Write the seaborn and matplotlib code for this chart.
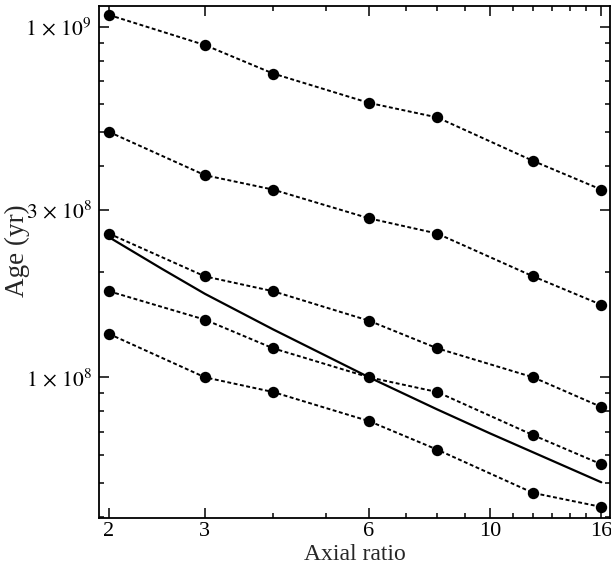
import numpy as np
import pandas as pd
import matplotlib
matplotlib.use("Agg")
import matplotlib.pyplot as plt
from matplotlib import ticker
import seaborn as sns

# ---- data ----
axial_ratio = [2, 3, 4, 6, 8, 12, 16]
age_s1 = [1.08e9, 8.86e8, 7.35e8, 6.06e8, 5.51e8, 4.14e8, 3.43e8]
age_s2 = [5.01e8, 3.77e8, 3.43e8, 2.84e8, 2.57e8, 1.94e8, 1.61e8]
age_s3 = [2.57e8, 1.94e8, 1.76e8, 1.45e8, 1.21e8, 1.00e8, 8.23e7]
age_s4 = [1.76e8, 1.46e8, 1.21e8, 1.00e8, 9.08e7, 6.84e7, 5.65e7]
age_s5 = [1.33e8, 1.00e8, 9.08e7, 7.50e7, 6.22e7, 4.68e7, 4.27e7]

curve_x = [2, 2.5, 3, 4, 6, 8, 10, 12, 16]
curve_y = [2.51e8, 2.04e8, 1.73e8, 1.37e8, 1.00e8, 8.10e7, 6.92e7, 6.11e7, 5.02e7]

x_major = [2, 3, 6, 10, 16]
x_minor = [4, 5, 7, 8, 9, 11, 12, 13, 14, 15]
y_major = [1e8, 3e8, 1e9]
y_major_labels = [r"$1\,\times\,10^{8}$", r"$3\,\times\,10^{8}$", r"$1\,\times\,10^{9}$"]

# ---- style ----
sns.set_style("ticks")
plt.rcParams["font.family"] = ["Liberation Serif", "DejaVu Serif"]
plt.rcParams["mathtext.fontset"] = "stix"

fig = plt.figure(figsize=(6.11, 5.73), dpi=100)
ax = fig.add_axes([99 / 611, 55 / 573, 511 / 611, 512 / 573])

series = [age_s1, age_s2, age_s3, age_s4, age_s5]
for s in series:
    df = pd.DataFrame({"x": axial_ratio, "y": s})
    sns.lineplot(data=df, x="x", y="y", ax=ax, color="black",
                 linestyle=(0, (2.0, 1.3)), linewidth=1.4,
                 marker="o", markersize=8.2, markeredgewidth=0,
                 markerfacecolor="black", estimator=None, sort=False)

dfc = pd.DataFrame({"x": curve_x, "y": curve_y})
sns.lineplot(data=dfc, x="x", y="y", ax=ax, color="black",
             linewidth=1.6, estimator=None, sort=False)

ax.set_xscale("log")
ax.set_yscale("log")
ax.set_xlim(1.918, 16.6)
ax.set_ylim(3.97e7, 1.145e9)

ax.xaxis.set_major_locator(ticker.FixedLocator(x_major))
ax.xaxis.set_major_formatter(ticker.FixedFormatter([str(v) for v in x_major]))
ax.xaxis.set_minor_locator(ticker.FixedLocator(x_minor))
ax.xaxis.set_minor_formatter(ticker.NullFormatter())

ax.yaxis.set_major_locator(ticker.FixedLocator(y_major))
ax.yaxis.set_major_formatter(ticker.FixedFormatter(y_major_labels))
ax.yaxis.set_minor_locator(ticker.LogLocator(base=10, subs=[2, 4, 5, 6, 7, 8, 9], numticks=20))
ax.yaxis.set_minor_formatter(ticker.NullFormatter())

ax.tick_params(which="both", direction="in", top=True, right=True,
               width=1.1, colors="black")
ax.tick_params(which="major", length=7.2)
ax.tick_params(which="minor", length=3.6)
ax.tick_params(axis="x", which="major", pad=3, labelsize=16)
ax.tick_params(axis="y", which="major", pad=5, labelsize=15.5)

for sp in ax.spines.values():
    sp.set_linewidth(1.3)
    sp.set_color("black")

ax.set_xlabel("Axial ratio", fontsize=17, labelpad=2)
ax.set_ylabel("Age (yr)", fontsize=19.5)
ax.yaxis.set_label_coords(-0.136, 0.522)

fig.savefig("out.png", dpi=100)
